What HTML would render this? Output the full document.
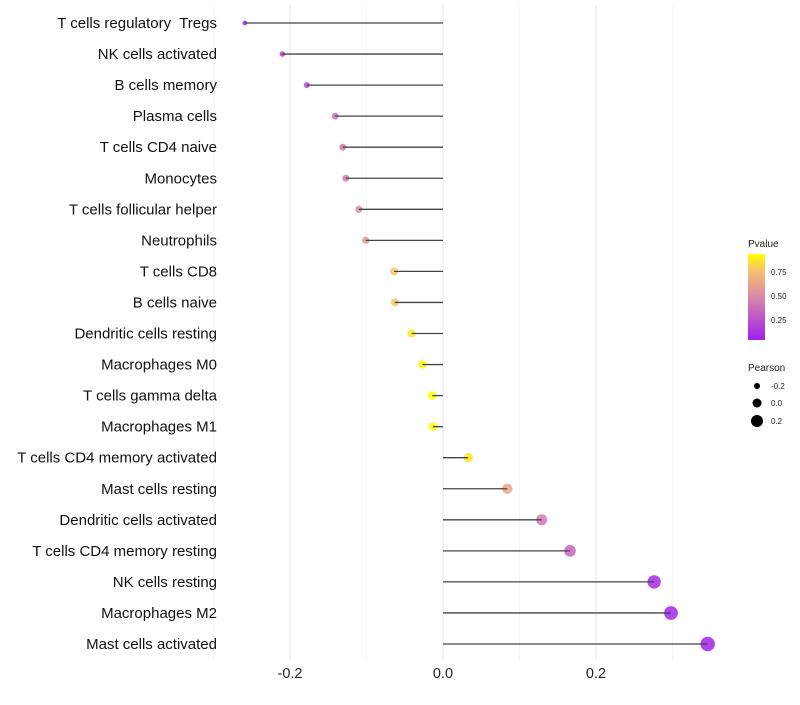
<!DOCTYPE html>
<html><head><meta charset="utf-8"><style>
body{margin:0;background:#fff;}
svg text{font-family:"Liberation Sans",sans-serif;white-space:pre;}
</style></head><body>
<svg id="chart" width="800" height="700" xmlns="http://www.w3.org/2000/svg">
<defs><linearGradient id="pg" x1="0" y1="1" x2="0" y2="0">
<stop offset="0" stop-color="#a020f0"/><stop offset="0.5" stop-color="#d888a8"/><stop offset="0.8" stop-color="#f5c070"/><stop offset="1" stop-color="#ffff00"/></linearGradient></defs>
<g id="grid"></g><g id="marks"></g><g id="stems"></g><g id="labels"></g><g id="xaxis"></g>
<g>
<text x="748" y="247" font-size="10" fill="#222">Pvalue</text>
<rect x="748" y="254" width="17" height="86" fill="url(#pg)"/>
<text x="771" y="275" font-size="8" fill="#222">0.75</text>
<text x="771" y="299" font-size="8" fill="#222">0.50</text>
<text x="771" y="323" font-size="8" fill="#222">0.25</text>
</g>
<g>
<text x="748" y="371" font-size="10" fill="#222">Pearson</text>
<circle cx="757" cy="386" r="3" fill="#000"/><text x="771" y="389" font-size="8" fill="#222">-0.2</text>
<circle cx="757" cy="403" r="4.5" fill="#000"/><text x="771" y="406" font-size="8" fill="#222">0.0</text>
<circle cx="757" cy="421" r="6" fill="#000"/><text x="771" y="424" font-size="8" fill="#222">0.2</text>
</g>
</svg>
<script>
const cells=["T cells regulatory  Tregs","NK cells activated","B cells memory","Plasma cells","T cells CD4 naive","Monocytes","T cells follicular helper","Neutrophils","T cells CD8","B cells naive","Dendritic cells resting","Macrophages M0","T cells gamma delta","Macrophages M1","T cells CD4 memory activated","Mast cells resting","Dendritic cells activated","T cells CD4 memory resting","NK cells resting","Macrophages M2","Mast cells activated"];
const pearson=[-0.259,-0.210,-0.178,-0.141,-0.131,-0.127,-0.110,-0.101,-0.064,-0.063,-0.041,-0.027,-0.014,-0.013,0.033,0.084,0.129,0.166,0.276,0.298,0.346];
const pvalue=[0.05,0.15,0.2,0.35,0.4,0.4,0.5,0.55,0.75,0.75,0.85,0.9,0.92,0.92,0.85,0.6,0.4,0.3,0.05,0.03,0.02];
const xTicks=[-0.2,0.0,0.2];
const xTickLabels=["-0.2","0.0","0.2"];
const NS="http://www.w3.org/2000/svg";
const X=v=>443+v*765;
const Y=i=>23+i*31.05;
const R=v=>4.5+8*v;
function col(p){
 const stops=[[0,[160,32,240]],[0.5,[216,136,168]],[0.8,[245,192,112]],[1,[255,255,0]]];
 const t=Math.max(0,Math.min(1,p/0.92));
 for(let k=1;k<stops.length;k++){if(t<=stops[k][0]){const a=stops[k-1],b=stops[k],f=(t-a[0])/(b[0]-a[0]);return `rgb(${a[1].map((c,j)=>Math.round(c+(b[1][j]-c)*f)).join(',')})`;}}
 return "rgb(255,255,0)";
}
function mk(tag,attrs,parent){const e=document.createElementNS(NS,tag);for(const k in attrs)e.setAttribute(k,attrs[k]);document.getElementById(parent).appendChild(e);return e;}
[-0.3,-0.1,0.1,0.3].forEach(v=>{const g=mk('line',{x1:X(v),x2:X(v),y1:5,y2:660,stroke:'#f0f0f0','stroke-width':0.6},'grid');

});
xTicks.forEach((v,i)=>{const g=mk('line',{x1:X(v),x2:X(v),y1:5,y2:660,stroke:'#e8e8e8','stroke-width':1.1},'grid');


const t=mk('text',{x:X(v),y:678,'font-size':14.5,'text-anchor':'middle',fill:'#222'},'xaxis');t.textContent=xTickLabels[i];

});
cells.forEach((c,i)=>{
 const d=mk('circle',{cx:X(pearson[i]),cy:Y(i),r:R(pearson[i]),fill:col(pvalue[i]),'fill-opacity':0.85},'marks');
 
 
 const l=mk('line',{x1:X(0),x2:X(pearson[i]),y1:Y(i),y2:Y(i),stroke:'#444','stroke-width':1.3},'stems');
 
 
 const t=mk('text',{x:217,y:Y(i)+5,'font-size':15,'text-anchor':'end',fill:'#111'},'labels');t.textContent=c;
 
 
});
</script>
</body></html>
